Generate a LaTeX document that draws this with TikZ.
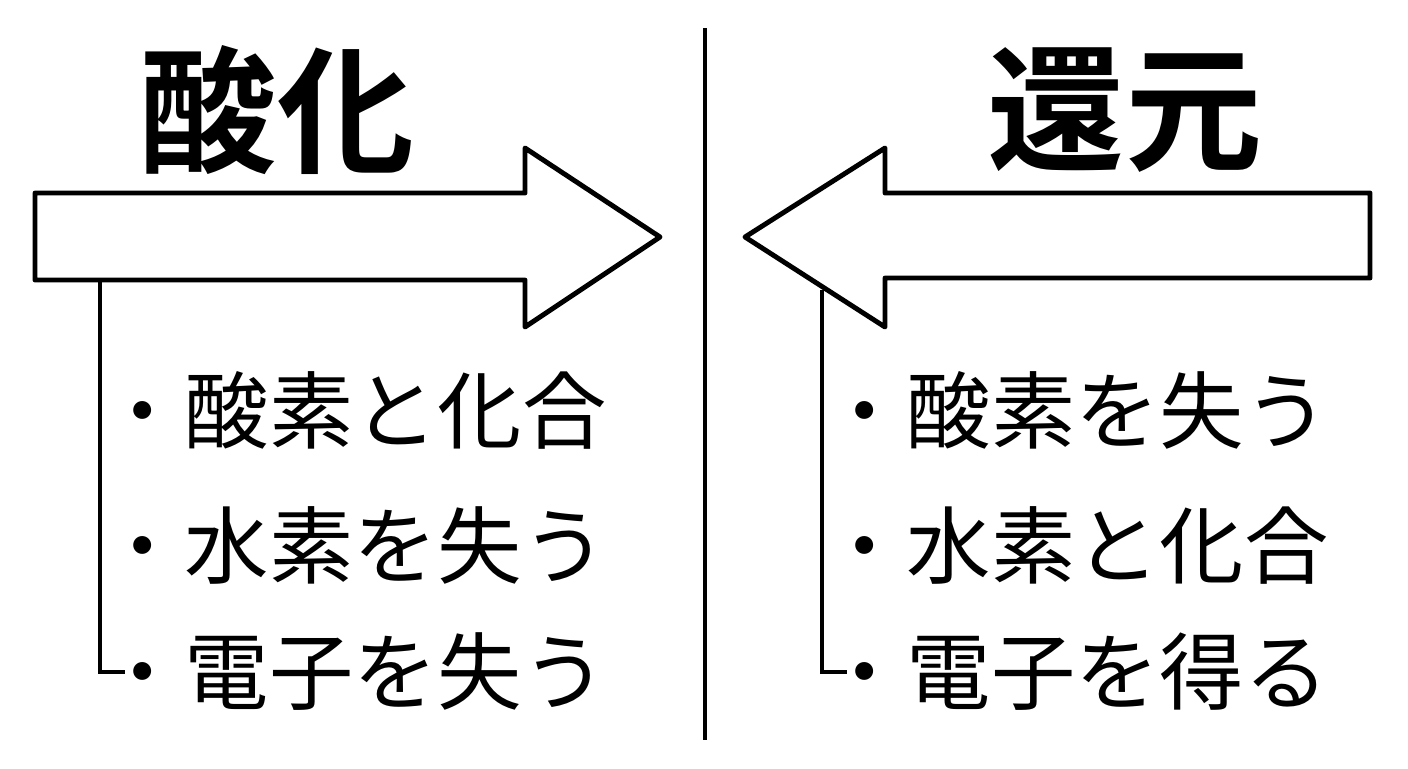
\documentclass[tikz,border=0pt]{standalone}
\usepackage{fontspec}
\newfontfamily\cjk{Noto Sans CJK JP}
\newfontfamily\cjkb{Noto Sans CJK JP Bold}
\usetikzlibrary{positioning}
\begin{document}
\begin{tikzpicture}[x=0.02cm, y=-0.02cm,
    % Styles
    outline/.style={draw=black, line width=2.8pt, line join=round},
    title/.style={font=\cjkb\fontsize{78}{86}\selectfont, inner sep=0pt},
    item/.style={font=\cjk\fontsize{48}{54}\selectfont, anchor=west, inner sep=0pt},
]
\useasboundingbox (0,0) rectangle (1408,768);

% Divider
\coordinate (top) at (705,28);
\coordinate (bottom) at (705,740);
\draw[line width=2.8pt] (top) -- (bottom);

% Titles
\node[title] (oxid) at (277,110) {酸化};
\node[title] (redu) at (1125,110) {還元};

% Arrows
\draw[outline] (35,193) -- (525,193) -- (525,148) -- (660,237) -- (525,327)
    -- (525,280) -- (35,280) -- cycle;
\draw[outline] (1370,193) -- (885,193) -- (885,148) -- (745,237) -- (885,327)
    -- (885,278) -- (1370,278) -- cycle;

% Left list
\node[item] (l1) at (100,410) {・酸素と化合};
\node[item] (l2) at (100,545) {・水素を失う};
\node[item] (l3) at (100,672) {・電子を失う};
\coordinate (lstart) at (100,280);
\draw[line width=2.8pt] (lstart) |- ([xshift=0.5cm]l3.west);

% Right list
\node[item] (r1) at (822,410) {・酸素を失う};
\node[item] (r2) at (822,545) {・水素と化合};
\node[item] (r3) at (822,672) {・電子を得る};
\coordinate (rstart) at (822,290);
\draw[line width=2.8pt] (rstart) |- ([xshift=0.5cm]r3.west);
\end{tikzpicture}
\end{document}
